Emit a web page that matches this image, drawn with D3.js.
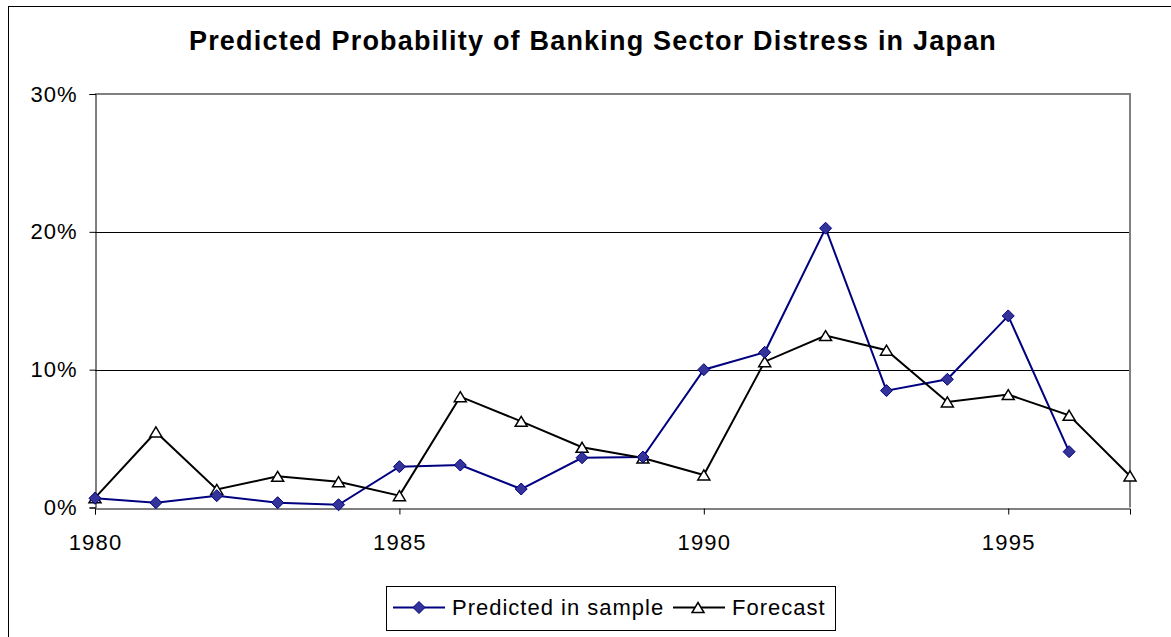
<!DOCTYPE html>
<html><head><meta charset="utf-8">
<script src="https://cdn.jsdelivr.net/npm/d3@7/dist/d3.min.js"></script>
<style>body{margin:0;background:#fff}svg{display:block}text{font-family:Arial,"Liberation Sans",sans-serif}</style>
</head><body>
<script>
const years = [1980,1981,1982,1983,1984,1985,1986,1987,1988,1989,1990,1991,1992,1993,1994,1995,1996,1997];
const predicted = [0.67,0.35,0.86,0.35,0.2,2.96,3.08,1.34,3.61,3.66,10.0,11.26,20.26,8.48,9.3,13.9,4.05,null];
const forecast = [0.7,5.48,1.31,2.26,1.87,0.86,8.04,6.25,4.37,3.59,2.36,10.58,12.47,11.41,7.66,8.19,6.69,2.29];
const yTicks = [0,10,20,30];
const xTicks = [1980,1985,1990,1995];
const title = "Predicted Probability of Banking Sector Distress in Japan";
const seriesNames = ["Predicted in sample","Forecast"];

const W=1171,H=637;
const svg=d3.select("body").append("svg").attr("width",W).attr("height",H);
svg.append("rect").attr("x",8.5).attr("y",6.5).attr("width",1180).attr("height",650).attr("fill","#fff").attr("stroke","#000").attr("stroke-width",1);

const x=d3.scaleLinear().domain([1980,1997]).range([95,1130]);
const y=d3.scaleLinear().domain([0,30]).range([507.5,94]);

svg.append("text").attr("x",593).attr("y",50).attr("text-anchor","middle")
  .attr("font-size",27).attr("font-weight","bold").attr("letter-spacing",1.2).text(title);

// gridlines
svg.append("g").selectAll("line").data(yTicks.filter(d=>d>0&&d<30)).join("line")
  .attr("x1",95).attr("x2",1130).attr("y1",d=>Math.round(y(d))+0.5).attr("y2",d=>Math.round(y(d))+0.5)
  .attr("stroke","#000").attr("stroke-width",1);
// plot border top/right gray
svg.append("path").attr("d",`M95,${y(30)}H${x(1997)}V${y(0)}`).attr("fill","none").attr("stroke","#808080").attr("stroke-width",2);

// axes
const yAxis=d3.axisLeft(y).tickValues(yTicks).tickFormat(d=>d+"%").tickSize(6).tickPadding(12);
const gy=svg.append("g").attr("transform","translate(95.5,0)").call(yAxis);
gy.select(".domain").attr("stroke","#000");
gy.selectAll("text").attr("font-size",22).attr("letter-spacing",1).attr("font-family","Arial, 'Liberation Sans', sans-serif").attr("fill","#000");
gy.selectAll(".tick line").attr("stroke","#000");

const xAxis=d3.axisBottom(x).tickValues(xTicks).tickFormat(d3.format("d")).tickSize(6).tickPadding(20);
const gx=svg.append("g").attr("transform",`translate(0,${Math.round(y(0))+0.5})`).call(xAxis);
gx.select(".domain").attr("stroke","#000");
gx.selectAll("text").attr("font-size",22).attr("letter-spacing",1.2).attr("font-family","Arial, 'Liberation Sans', sans-serif").attr("fill","#000");
gx.selectAll(".tick line").attr("stroke","#000");

// lines
const lineP=d3.line().defined(d=>d[1]!=null).x(d=>x(d[0])).y(d=>y(d[1]));
const pData=years.map((yr,i)=>[yr,predicted[i]]);
const fData=years.map((yr,i)=>[yr,forecast[i]]);
svg.append("path").attr("d",lineP(pData)).attr("fill","none").attr("stroke","#000080").attr("stroke-width",2);
svg.append("path").attr("d",lineP(fData)).attr("fill","none").attr("stroke","#000").attr("stroke-width",2);

function diamondPath(cx,cy,r){return `M${cx},${cy-r}L${cx+r},${cy}L${cx},${cy+r}L${cx-r},${cy}Z`;}
function triPath(cx,cy,w,h){return `M${cx},${cy-h/2}L${cx+w/2},${cy+h/2}L${cx-w/2},${cy+h/2}Z`;}

svg.append("g").selectAll("path").data(fData).join("path")
  .attr("d",d=>triPath(x(d[0]),y(d[1]),12,10)).attr("fill","#fff").attr("stroke","#000").attr("stroke-width",1.5);
svg.append("g").selectAll("path").data(pData.filter(d=>d[1]!=null)).join("path")
  .attr("d",d=>diamondPath(x(d[0]),y(d[1]),6)).attr("fill","#333399").attr("stroke","#000080").attr("stroke-width",1);

// legend
const lg=svg.append("g");
lg.append("rect").attr("x",386.5).attr("y",586.5).attr("width",449).attr("height",44).attr("fill","#fff").attr("stroke","#000");
lg.append("line").attr("x1",393).attr("x2",445).attr("y1",607.5).attr("y2",607.5).attr("stroke","#000080").attr("stroke-width",2);
lg.append("path").attr("d",diamondPath(419,607.5,6)).attr("fill","#333399").attr("stroke","#000080");
lg.append("text").attr("x",452).attr("y",615).attr("font-size",22).attr("letter-spacing",1).text(seriesNames[0]);
lg.append("line").attr("x1",673).attr("x2",725).attr("y1",607.5).attr("y2",607.5).attr("stroke","#000").attr("stroke-width",2);
lg.append("path").attr("d",triPath(698,607.5,12,10)).attr("fill","#fff").attr("stroke","#000").attr("stroke-width",1.5);
lg.append("text").attr("x",732).attr("y",615).attr("font-size",22).attr("letter-spacing",1).text(seriesNames[1]);
</script>
</body></html>
